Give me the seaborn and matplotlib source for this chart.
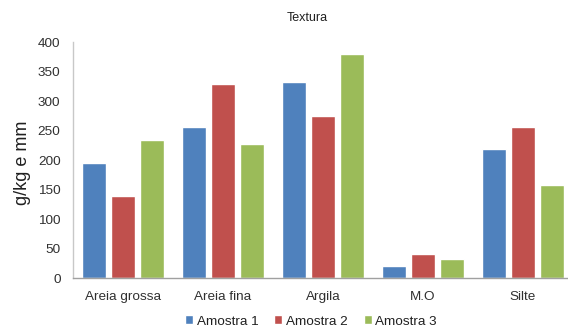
import matplotlib
matplotlib.use("Agg")
import matplotlib.pyplot as plt
import seaborn as sns
import pandas as pd

# Soil texture fractions per sample
categories = ["Areia grossa", "Areia fina", "Argila", "M.O", "Silte"]
amostra_1 = [195, 256, 332, 21, 220]
amostra_2 = [140, 329, 275, 42, 257]
amostra_3 = [235, 228, 380, 32, 158]
series_names = ["Amostra 1", "Amostra 2", "Amostra 3"]
y_ticks = [0, 50, 100, 150, 200, 250, 300, 350, 400]

df = pd.DataFrame({
    "categoria": categories * 3,
    "valor": amostra_1 + amostra_2 + amostra_3,
    "amostra": [s for s in series_names for _ in categories],
})

sns.set_theme(style="white")
plt.rcParams["font.family"] = ["Liberation Sans", "DejaVu Sans"]

W, H = 568, 329
fig = plt.figure(figsize=(W / 100, H / 100), dpi=100)
ax = fig.add_axes([73 / W, (H - 278.3) / H, 500 / W, 236 / H])

palette = ["#4F81BD", "#C0504D", "#9BBB59"]
sns.barplot(data=df, x="categoria", y="valor", hue="amostra",
            palette=palette, width=0.87, gap=0.2, saturation=1,
            ax=ax, errorbar=None)

ax.set_ylim(0, 400)
ax.set_xlim(-0.5, 4.5)
ax.set_yticks(y_ticks)
ax.set_yticklabels([str(v) for v in y_ticks])
ax.tick_params(axis="both", length=0, labelsize=9.7, colors="#303030")
ax.tick_params(axis="y", pad=9)
ax.tick_params(axis="x", pad=9)
ax.set_xlabel("")
ax.set_ylabel("g/kg e mm", fontsize=13, color="#202020")
ax.yaxis.set_label_coords(-0.084, 0.49)

for side in ["top", "right"]:
    ax.spines[side].set_visible(False)
ax.spines["left"].set_color("#C8C8C8")
ax.spines["bottom"].set_color("#A0A0A0")
ax.spines["left"].set_linewidth(1.0)
ax.spines["bottom"].set_linewidth(1.0)

fig.text(307 / W, 1 - 18 / H, "Textura", ha="center", va="center",
         fontsize=9, color="#202020")

sns.move_legend(ax, "center", bbox_to_anchor=(311 / W, 1 - 321.5 / H),
                bbox_transform=fig.transFigure, ncol=3, frameon=False,
                title=None, fontsize=9.7, handlelength=0.6, handleheight=0.6,
                handletextpad=0.25, columnspacing=1.2)
for t in ax.get_legend().get_texts():
    t.set_color("#202020")

fig.savefig("out.png", dpi=100)
